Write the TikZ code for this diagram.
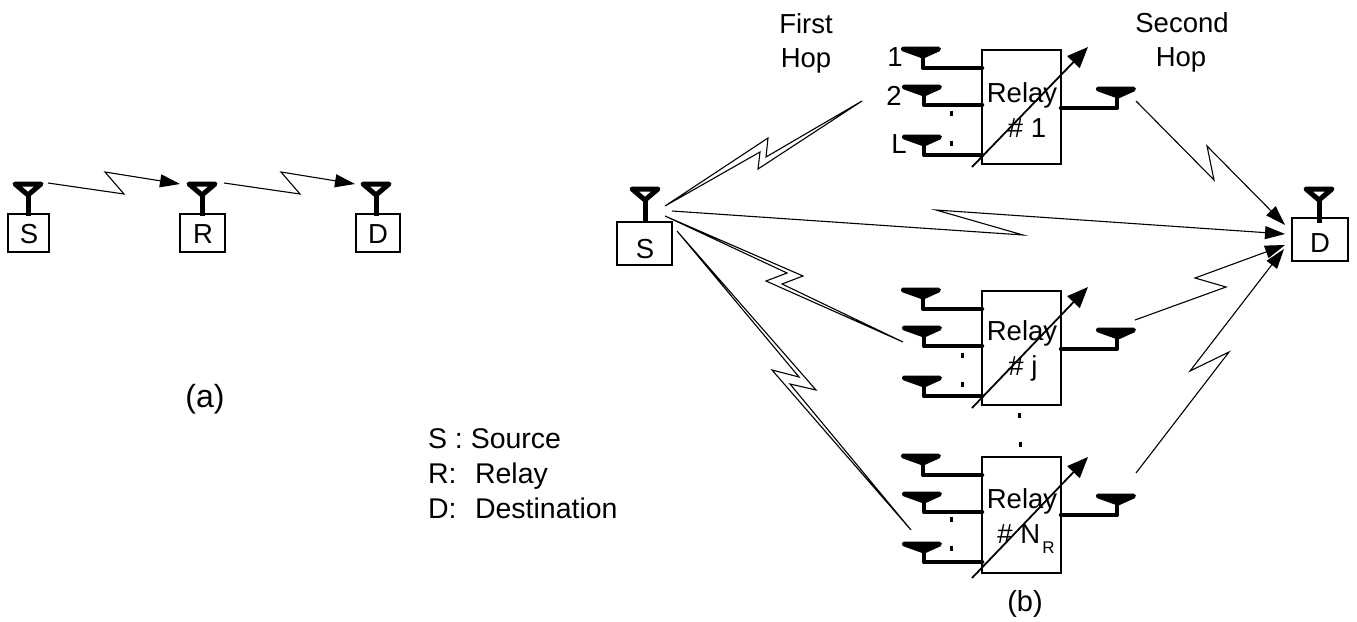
\documentclass[tikz,border=0pt]{standalone}
\usepackage{fontspec}
\setmainfont{Liberation Sans}
\usetikzlibrary{arrows.meta,calc}
\tikzset{
  lbl/.style={inner sep=0pt,outer sep=0pt,anchor=base,font=\fontsize{27.5}{30}\selectfont,text=black},
  lbll/.style={lbl,anchor=base west,font=\fontsize{28.5}{30}\selectfont},
  unitbox/.style={draw=black,line width=1.4pt,fill=white,inner sep=0pt,outer sep=0pt,anchor=north west},
  stem/.style={line width=4.5pt,line cap=round,line join=round},
  ant/.style={line width=5pt,line join=round},
  bolt/.style={line width=1.1pt,line join=miter,miter limit=20,-{Triangle[length=20pt,width=13pt]}},
  dbolt/.style={line width=1.1pt,line join=miter,miter limit=20},
  tune/.style={line width=1.8pt,-{Triangle[length=21pt,width=17pt]}},
  tick/.style={line width=3pt}
}
\newcommand{\yant}[3]{% centre x, top y, bottom of stem
  \draw[ant,fill=white] ({#1-13},{#2}) -- ({#1+13},{#2}) -- ({#1},{#2+11}) -- cycle;
  \draw[line width=5pt] ({#1},{#2+11}) -- ({#1},{#3});
}
\newcommand{\tant}[2]{% centre x, top y
  \draw[ant,fill=black] ({#1-19.5},{#2}) -- ({#1+15.5},{#2}) -- ({#1},{#2+7}) -- cycle;
}
\begin{document}
\begin{tikzpicture}[x=1pt,y=-1pt]
\useasboundingbox (0,0) rectangle (1357,621);
% ---------- (a)
\node[unitbox,minimum width=41pt,minimum height=38pt] (aS) at (8,214) {};
\node[unitbox,minimum width=45pt,minimum height=38pt] (aR) at (180,214) {};
\node[unitbox,minimum width=44pt,minimum height=38pt] (aD) at (356,214) {};
\yant{28}{184}{216}
\yant{202}{184}{216}
\yant{376}{184}{216}
\node[lbl] (aSt) at (29,243) {S};
\node[lbl] (aRt) at (203,243) {R};
\node[lbl] (aDt) at (378,243) {D};
\coordinate (as1) at (48,183);
\coordinate (ae1) at (180,184);
\coordinate (as2) at (224,183);
\coordinate (ae2) at (355,184);
\draw[bolt] (as1) -- (124,194) -- (105,172) -- (ae1);
\draw[bolt] (as2) -- (300,194) -- (281,172) -- (ae2);
\node[lbl,font=\fontsize{32}{34}\selectfont] (capa) at (205,407) {(a)};
\node[lbll] (leg1) at (428,448) {S : Source};
\node[lbll] (leg2) at (428,483) {\makebox[47pt][l]{R:}Relay};
\node[lbll] (leg3) at (428,518) {\makebox[47pt][l]{D:}Destination};
% ---------- (b) source and destination
\node[unitbox,minimum width=55pt,minimum height=43pt] (S) at (617,222) {};
\node[unitbox,minimum width=56pt,minimum height=43pt] (D) at (1292,218) {};
\yant{645}{189}{222}
\yant{1319}{189}{223}
\node[lbl] (St) at (645,258) {S};
\node[lbl] (Dt) at (1320,252) {D};
\node[lbl] (fh1) at (806,33) {First};
\node[lbl] (fh2) at (806,67) {Hop};
\node[lbl] (sh1) at (1182,32) {Second};
\node[lbl] (sh2) at (1181,66) {Hop};
\node[lbl] (n1) at (895,66) {1};
\node[lbl] (n2) at (894,105) {2};
\node[lbl] (nL) at (899,153) {L};
% ---------- relays
\foreach \nm/\o/\h/\ra/\rb in {1/0/114/102/137,j/241/114/340/375,n/407/116/508/543}{
  \node[unitbox,minimum width=79pt,minimum height=\h pt] (r\nm) at ({982},{50+\o}) {};
  \coordinate (a\nm) at ({923},{68+\o});
  \coordinate (b\nm) at ({924},{105+\o});
  \coordinate (c\nm) at ({924},{155+\o});
  \coordinate (o\nm) at ({1117},{108+\o});
  \tant{923}{49+\o}
  \tant{924}{87+\o}
  \tant{924}{137+\o}
  \tant{1118}{89+\o}
  \draw[stem] ({923},{52+\o}) -- (a\nm) -- (r\nm.west |- a\nm);
  \draw[stem] ({924},{90+\o}) -- (b\nm) -- (r\nm.west |- b\nm);
  \draw[stem] ({924},{140+\o}) -- (c\nm) -- (r\nm.west |- c\nm);
  \draw[stem] (r\nm.east |- o\nm) -- (o\nm) -- ({1117},{92+\o});
  \node[lbl] (t\nm) at (1022,\ra) {Relay};
}
\node[lbl] (u1) at (1027,137) {\# 1};
\node[lbl] (uj) at (1023,375) {\# j};
\node[lbl] (un) at (1026,543) {\# N\hspace{2pt}\raisebox{-10pt}{\fontsize{17}{18}\selectfont R}};
% variable-gain arrows
\draw[tune] (972,167) -- (1088,47);
\draw[tune] (972,408) -- (1088,287);
\draw[tune] (972,578) -- (1088,457);
% dots
\foreach \px/\py in {951/113,951/143,962/355,962/384,951/519,951/548,1019/415,1020/444}{
  \draw[tick] ({\px},{\py-2.5}) -- ({\px},{\py+2.5});
}
% ---------- first hop
\coordinate (s1) at (665,206);
\coordinate (e1) at (862,101);
\coordinate (s2) at (665,216);
\coordinate (e2) at (903,342);
\coordinate (s3) at (677,231);
\coordinate (e3) at (911,530);
\draw[dbolt] (s1) -- (768,138) -- (766,157) -- (e1) -- (758,169) -- (760,152) -- cycle;
\draw[dbolt] (s2) -- (803,276) -- (782,284) -- (e2) -- (766,281) -- (787,273) -- cycle;
\draw[dbolt] (s3) -- (816,390) -- (790,384) -- (e3) -- (772,370) -- (799,377) -- cycle;
% ---------- direct and second hop
\coordinate (s4) at (672,211);
\coordinate (e4) at (1285,234);
\coordinate (s5) at (1136,101);
\coordinate (e5) at (1285,225);
\coordinate (s6) at (1135,320);
\coordinate (e6) at (1285,245);
\coordinate (s7) at (1136,473);
\coordinate (e7) at (1284,249);
\draw[bolt] (s4) -- (1023,235) -- (936,210) -- (e4);
\draw[bolt] (s5) -- (1214,180) -- (1207,146) -- (e5);
\draw[bolt] (s6) -- (1226,287) -- (1195,278) -- (e6);
\draw[bolt] (s7) -- (1229,352) -- (1190,371) -- (e7);
\node[lbl,font=\fontsize{29}{31}\selectfont] (capb) at (1025,611) {(b)};
\end{tikzpicture}
\end{document}
